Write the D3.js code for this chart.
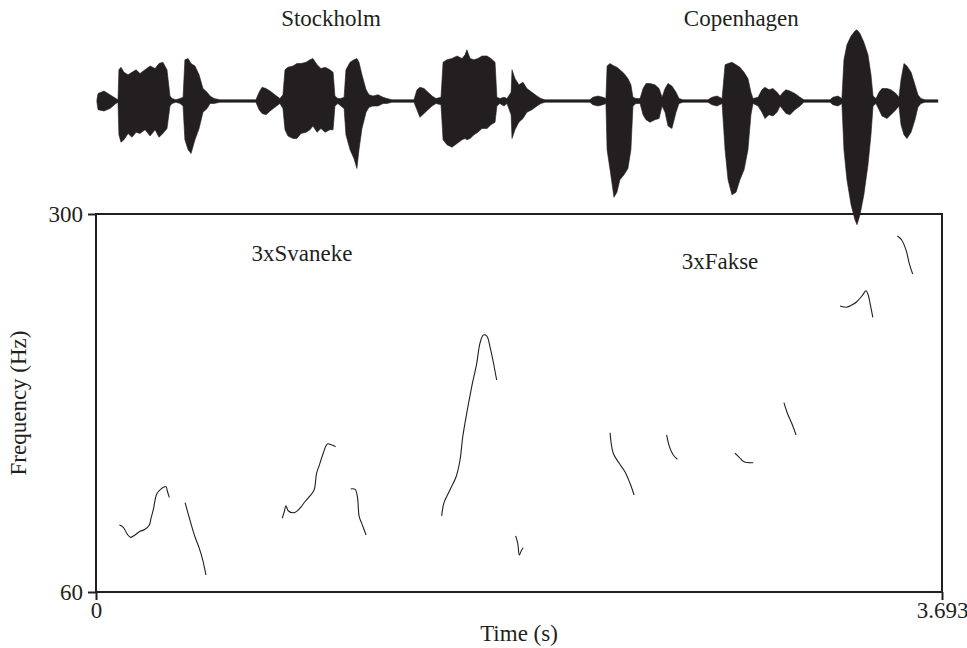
<!DOCTYPE html>
<html>
<head>
<meta charset="utf-8">
<script src="https://cdn.jsdelivr.net/npm/d3@7"></script>
<style>
  body { margin: 0; background: #fff; }
  text { font-family: "Liberation Serif", "Times New Roman", serif; fill: #231f20; }
</style>
</head>
<body>
<svg width="967" height="648"></svg>
<script>
// envelope of the waveform: [time (s), positive amp, negative amp] (amp in % of max)
var wave = [
  [0.004,1,1],[0.009,6,7],[0.035,8,8],[0.061,5,6],[0.087,2,2],[0.096,1,1],
  [0.100,25,27],[0.109,27,33],[0.122,23,31],[0.140,21,26],[0.157,23,29],[0.175,25,25],
  [0.192,22,26],[0.214,25,23],[0.236,28,28],[0.258,26,23],[0.275,30,29],[0.292,31,26],
  [0.310,25,22],[0.323,4,4],[0.332,2,2],[0.349,1,1],[0.367,2,2],[0.380,3,4],
  [0.388,33,31],[0.402,34,39],[0.415,30,42],[0.432,28,31],[0.450,21,22],[0.467,10,9],
  [0.485,7,6],[0.498,4,2],[0.515,2,2],[0.541,1,1],[0.698,1,1],[0.712,7,7],
  [0.725,11,10],[0.742,10,11],[0.760,8,8],[0.781,5,5],[0.803,2,2],[0.816,5,6],
  [0.825,25,23],[0.838,27,28],[0.860,28,30],[0.877,30,30],[0.895,30,26],[0.917,31,25],
  [0.934,33,23],[0.947,34,20],[0.965,29,25],[0.982,26,22],[1.000,27,25],[1.021,25,23],
  [1.035,23,23],[1.043,4,4],[1.056,2,2],[1.069,2,4],[1.083,3,6],[1.091,25,27],
  [1.109,31,39],[1.126,33,46],[1.139,34,54],[1.148,31,39],[1.161,21,22],[1.179,9,9],
  [1.192,5,5],[1.209,4,4],[1.231,5,4],[1.253,3,2],[1.270,2,2],[1.292,1,1],
  [1.388,1,1],[1.401,9,7],[1.414,11,13],[1.432,10,10],[1.449,7,7],[1.467,4,4],
  [1.484,2,2],[1.506,3,3],[1.515,31,31],[1.532,33,35],[1.554,34,37],[1.576,36,34],
  [1.598,34,31],[1.611,37,30],[1.619,41,31],[1.633,34,30],[1.650,33,27],[1.667,34,25],
  [1.685,36,22],[1.707,36,22],[1.724,34,19],[1.742,31,17],[1.750,3,4],[1.763,2,2],
  [1.781,3,4],[1.794,2,2],[1.812,7,11],[1.816,25,30],[1.829,18,23],[1.846,13,17],
  [1.864,15,14],[1.881,10,9],[1.903,7,7],[1.925,4,4],[1.942,2,2],[1.960,1,1],
  [2.156,1,1],[2.169,3,3],[2.191,4,4],[2.213,3,3],[2.226,2,2],[2.231,28,39],
  [2.244,30,55],[2.261,28,77],[2.274,27,73],[2.287,25,63],[2.305,22,59],[2.322,18,54],
  [2.335,13,39],[2.344,3,4],[2.357,2,2],[2.375,2,2],[2.388,10,11],[2.401,14,15],
  [2.418,14,17],[2.440,13,15],[2.458,10,14],[2.471,3,4],[2.484,10,9],[2.497,14,20],
  [2.514,12,22],[2.532,7,9],[2.545,2,2],[2.562,1,1],[2.671,1,1],[2.689,3,3],
  [2.711,4,4],[2.733,2,2],[2.746,29,39],[2.759,30,63],[2.776,31,75],[2.794,29,73],
  [2.811,27,63],[2.829,23,55],[2.846,18,39],[2.859,7,11],[2.868,2,2],[2.890,3,4],
  [2.907,9,9],[2.920,11,14],[2.938,9,11],[2.955,10,12],[2.973,7,9],[2.986,4,4],
  [2.999,7,7],[3.012,9,10],[3.029,8,11],[3.051,6,7],[3.073,3,4],[3.090,1,1],
  [3.204,1,1],[3.217,3,3],[3.239,4,4],[3.256,2,2],[3.265,33,39],[3.278,45,63],
  [3.296,52,83],[3.313,56,95],[3.322,57,99],[3.335,54,91],[3.352,47,75],[3.370,37,51],
  [3.383,21,27],[3.392,4,4],[3.405,2,2],[3.418,7,7],[3.431,10,12],[3.453,10,14],
  [3.470,9,11],[3.492,6,7],[3.505,3,4],[3.514,17,19],[3.527,30,27],[3.540,28,30],
  [3.558,23,25],[3.575,13,15],[3.588,5,5],[3.601,2,2],[3.619,1,1],[3.675,1,1]
];

// pitch contours: times (s) and F0 (Hz), one array per voiced stretch
var pitchT = [
  [0.102,0.119,0.137,0.151,0.170,0.189,0.214,0.233,0.240,0.250,0.265,0.282,0.306,0.311,0.320],
  [0.389,0.410,0.432,0.451,0.466,0.480],
  [0.813,0.822,0.829,0.839,0.861,0.876,0.894,0.912,0.934,0.952,0.963,0.975,0.992,1.010,1.029,1.046],
  [1.112,1.131,1.141,1.149,1.160,1.179],
  [1.509,1.519,1.545,1.572,1.589,1.601,1.621,1.640,1.662,1.676,1.691,1.706,1.720,1.734,1.749],
  [1.832,1.841,1.848,1.858,1.865],
  [2.244,2.258,2.284,2.309,2.331,2.349],
  [2.491,2.503,2.520,2.538],
  [2.789,2.808,2.829,2.869],
  [3.003,3.018,3.037,3.056],
  [3.248,3.277,3.299,3.321,3.347,3.361,3.371,3.379,3.391],
  [3.498,3.517,3.536,3.550,3.565]
];
var pitchF = [
  [102.5,101.1,96.6,94.7,96.2,98.3,99.8,102.5,106.8,112.1,122.2,125.2,126.9,124.3,120.1],
  [116.7,105.7,95.1,87.7,80.3,70.8],
  [106.8,111.0,114.8,111.6,110.3,111.2,113.8,117.3,121.0,124.8,135.4,140.6,148.1,154.0,153.3,152.3],
  [125.4,125.2,120.5,107.8,103.6,96.2],
  [108.3,116.7,124.8,133.2,143.8,158.6,175.6,190.3,205.2,217.9,223.2,222.5,215.7,206.2,194.6],
  [95.6,90.9,83.5,86.7,88.1],
  [161.1,148.1,141.7,136.4,129.0,121.6],
  [159.7,152.3,147.0,144.3],
  [148.1,145.5,142.7,142.1],
  [180.2,173.5,167.1,159.7],
  [241.6,240.8,242.2,244.3,248.6,251.3,248.6,243.3,234.4],
  [286.0,283.5,277.1,268.7,261.9]
];

var tMax = 3.693;
var fRange = [60, 300];
var cities = [{name: "Stockholm", t: 1.026}, {name: "Copenhagen", t: 2.817}];
var words = [{name: "3xSvaneke", t: 0.899, f: 270}, {name: "3xFakse", t: 2.724, f: 265}];

var svg = d3.select("svg");
var ink = "#231f20";

var x = d3.scaleLinear().domain([0, tMax]).range([96, 942]);
var y = d3.scaleLinear().domain(fRange).range([592, 214]);
var amp = d3.scaleLinear().domain([-100, 100]).range([226, -24]);

// pitch frame
svg.append("rect")
    .attr("x", x(0)).attr("y", y(fRange[1]))
    .attr("width", x(tMax) - x(0)).attr("height", y(fRange[0]) - y(fRange[1]))
    .attr("fill", "none").attr("stroke", ink).attr("stroke-width", 2);

var yAxis = d3.axisLeft(y).tickValues(fRange).tickSize(8).tickFormat(d3.format("d"));
var gy = svg.append("g").attr("transform", "translate(" + x(0) + ",0)").call(yAxis);
gy.select(".domain").remove();
gy.selectAll("line").attr("stroke", ink).attr("stroke-width", 2);
gy.selectAll("text").attr("font-size", 23).attr("dy", "0.33em").attr("x", -13).attr("fill", ink);

var xAxis = d3.axisBottom(x).tickValues([0, tMax]).tickSize(8).tickFormat(function(d) { return d === 0 ? "0" : d3.format(".3f")(d); });
var gx = svg.append("g").attr("transform", "translate(0," + y(fRange[0]) + ")").call(xAxis);
gx.select(".domain").remove();
gx.selectAll("line").attr("stroke", ink).attr("stroke-width", 2);
gx.selectAll("text").attr("font-size", 23).attr("y", 10).attr("fill", ink);

svg.append("text")
    .attr("x", (x(0) + x(tMax)) / 2).attr("y", 641)
    .attr("text-anchor", "middle").attr("font-size", 23)
    .text("Time (s)");

svg.append("text")
    .attr("transform", "translate(26," + (y(fRange[0]) + y(fRange[1])) / 2 + ") rotate(-90)")
    .attr("text-anchor", "middle").attr("font-size", 23)
    .text("Frequency (Hz)");

// pitch curves
var line = d3.line()
    .x(function(d) { return x(d[0]); })
    .y(function(d) { return y(d[1]); })
    .curve(d3.curveCatmullRom);

svg.selectAll(".pitch")
    .data(pitchT.map(function(ts, i) { return ts.map(function(t, j) { return [t, pitchF[i][j]]; }); }))
    .enter().append("path")
    .attr("class", "pitch")
    .attr("d", line)
    .attr("fill", "none")
    .attr("stroke", ink)
    .attr("stroke-width", 1.1);

svg.selectAll(".word")
    .data(words)
    .enter().append("text")
    .attr("class", "word")
    .attr("x", function(d) { return x(d.t); })
    .attr("y", function(d) { return y(d.f); })
    .attr("text-anchor", "middle")
    .attr("font-size", 23)
    .text(function(d) { return d.name; });

// waveform envelope
var area = d3.area()
    .x(function(d) { return x(d[0]); })
    .y0(function(d) { return amp(-d[2]); })
    .y1(function(d) { return amp(d[1]); });

svg.append("path")
    .datum(wave)
    .attr("d", area)
    .attr("fill", ink)
    .attr("stroke", ink)
    .attr("stroke-width", 0.6);

svg.selectAll(".city")
    .data(cities)
    .enter().append("text")
    .attr("class", "city")
    .attr("x", function(d) { return x(d.t); })
    .attr("y", 26)
    .attr("text-anchor", "middle")
    .attr("font-size", 23)
    .text(function(d) { return d.name; });
</script>
</body>
</html>
